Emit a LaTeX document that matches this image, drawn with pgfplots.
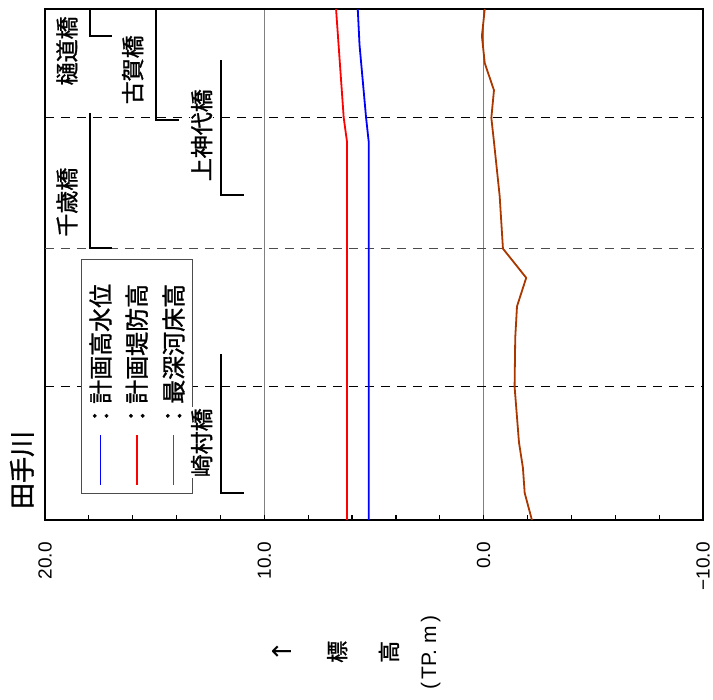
\documentclass[border=0pt]{standalone}
\usepackage{fontspec}
\setmainfont{Liberation Sans}
\newfontfamily\jp{Noto Sans CJK JP}[RawFeature={embolden=1.2}]
\newfontfamily\dv{DejaVu Sans}
\usepackage{pgfplots}
\pgfplotsset{compat=1.18}
\definecolor{bed}{RGB}{170,55,0}
\begin{document}
\begin{tikzpicture}
\path[use as bounding box] (0,0) rectangle (713bp,700bp);
\begin{axis}[
 at={(45bp,180bp)}, anchor=south west,
 width=658bp, height=511bp, scale only axis,
 x dir=reverse, xmin=-10, xmax=20, ymin=0, ymax=100,
 xtick={-10,0,10,20}, xticklabels={−10.0,0.0,10.0,20.0},
 minor xtick={-8,-6,-4,-2,2,4,6,8,12,14,16,18},
 xtick pos=left, ytick=\empty,
 tick align=inside, major tick length=5bp, minor tick length=5bp,
 tick style={black, line width=1.2bp},
 xticklabel style={rotate=90, anchor=east, inner sep=1bp, font=\fontsize{19bp}{19bp}\selectfont},
 xticklabel shift=21bp,
 xmajorgrids, major grid style={gray, line width=0.9bp},
 axis line style={line width=1.8bp},
 clip=false,
]
% bridge position lines (dashed)
\addplot[black, line width=0.9bp, dash pattern=on 9bp off 7bp] coordinates {(20,26.1) (-10,26.1)};
\addplot[black!70, line width=0.9bp, dash pattern=on 9bp off 7bp] coordinates {(20,53.1) (-10,53.1)};
\addplot[black, line width=0.9bp, dash pattern=on 9bp off 7bp] coordinates {(20,78.7) (-10,78.7)};
% legend box
\draw[draw=black!70, fill=white, line width=0.9bp] (axis cs:18.32,50.9) rectangle (axis cs:13.27,5.28);
% data
\addplot[red, line width=1.8bp] coordinates {(6.23,0) (6.23,74.0) (6.38,78.7) (6.73,100)};
\addplot[blue, line width=1.8bp] coordinates {(5.24,0) (5.24,74.0) (5.36,78.7) (5.66,93.0) (5.74,100)};
\addplot[bed, line width=1.8bp] coordinates {
(-2.20,0) (-1.87,5.3) (-1.79,10.2) (-1.61,15.2) (-1.41,26.1) (-1.44,35.7)
(-1.52,41.8) (-1.94,47.4) (-0.88,53.1) (-0.73,63.4) (-0.47,74.0) (-0.35,78.7)
(-0.47,84.1) (-0.05,89.4) (0.08,94.7) (-0.05,100)};
% legend samples
\addplot[blue, line width=1.8bp] coordinates {(17.47,6.85) (17.47,16.6)};
\addplot[red, line width=1.8bp] coordinates {(15.82,6.85) (15.82,16.6)};
\addplot[bed, line width=1.8bp] coordinates {(14.14,6.85) (14.14,16.6)};
\node[rotate=90, anchor=west, inner sep=0, font={\jp\fontsize{24bp}{28bp}\selectfont}] at (axis cs:17.47,18.0) {：計画高水位};
\node[rotate=90, anchor=west, inner sep=0, font={\jp\fontsize{24bp}{28bp}\selectfont}] at (axis cs:15.82,18.0) {：計画堤防高};
\node[rotate=90, anchor=west, inner sep=0, font={\jp\fontsize{24bp}{28bp}\selectfont}] at (axis cs:14.14,18.0) {：最深河床高};
% bridges
\addplot[black, line width=1.5bp] coordinates {(11.97,32.4) (11.97,5.28) (10.93,5.28)};
\addplot[black, line width=1.5bp] coordinates {(11.97,90.0) (11.97,63.6) (10.93,63.6)};
\addplot[black, line width=1.5bp] coordinates {(14.93,100) (14.93,78.3) (13.91,78.3)};
\addplot[black, line width=1.5bp] coordinates {(17.95,100) (17.95,94.7) (16.95,94.7)};
\addplot[black, line width=1.5bp] coordinates {(17.95,79.6) (17.95,53.2) (16.95,53.2)};
\node[rotate=90, fill=white, inner sep=1bp, font={\jp\fontsize{23bp}{26bp}\selectfont}] at (axis cs:12.86,15.1) {崎村橋};
\node[rotate=90, fill=white, inner sep=1bp, font={\jp\fontsize{23bp}{26bp}\selectfont}] at (axis cs:12.86,75.3) {上神代橋};
\node[rotate=90, fill=white, inner sep=1bp, font={\jp\fontsize{23bp}{26bp}\selectfont}] at (axis cs:16.0,88.1) {古賀橋};
\node[rotate=90, fill=white, inner sep=1bp, font={\jp\fontsize{23bp}{26bp}\selectfont}] at (axis cs:19.0,91.8) {樋道橋};
\node[rotate=90, fill=white, inner sep=1bp, font={\jp\fontsize{23bp}{26bp}\selectfont}] at (axis cs:19.0,62.2) {千歳橋};
% title
\node[rotate=90, font={\jp\fontsize{26bp}{30bp}\selectfont}] at (axis cs:21.05,9.8) {田手川};
% axis label
\node[rotate=90, font={\dv\fontsize{26bp}{28bp}\selectfont}] at (axis cs:9.18,-25.8) {\symbol{8593}};
\node[rotate=90, font={\jp\fontsize{22bp}{24bp}\selectfont}] at (axis cs:6.68,-25.8) {標};
\node[rotate=90, font={\jp\fontsize{22bp}{24bp}\selectfont}] at (axis cs:4.32,-25.8) {高};
\node[rotate=90, font={\fontsize{21bp}{24bp}\selectfont}] at (axis cs:2.41,-26.0) {(\,TP.\ m\,)};
\end{axis}
\end{tikzpicture}
\end{document}
